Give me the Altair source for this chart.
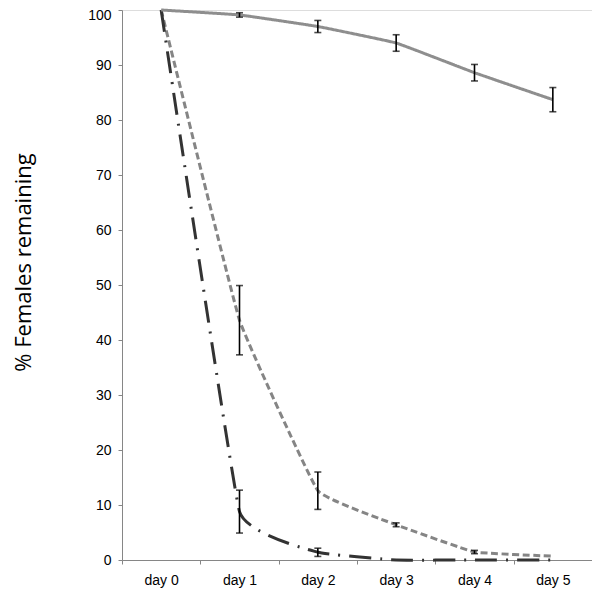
import altair as alt
import pandas as pd

days = ["day 0", "day 1", "day 2", "day 3", "day 4", "day 5"]

solid_vals = [100, 99.1, 97.0, 94.0, 88.6, 83.7]
solid_err = [None, 0.4, 1.1, 1.5, 1.5, 2.2]

dashed_vals = [100, 43.6, 12.6, 6.4, 1.45, 0.7]
dashed_err = [None, 6.3, 3.4, 0.35, 0.3, None]

dashdot_vals = [100, 8.8, 1.4, 0.0, 0.0, 0.0]
dashdot_err = [None, 3.9, 0.75, None, None, None]

series_names = ["solid", "dashed", "dashdot"]
all_vals = [solid_vals, dashed_vals, dashdot_vals]
all_errs = [solid_err, dashed_err, dashdot_err]

rows = []
for name, vals, errs in zip(series_names, all_vals, all_errs):
    for d, v, e in zip(days, vals, errs):
        rows.append({
            "day": d, "series": name, "value": v,
            "lo": (v - e) if e is not None else None,
            "hi": (v + e) if e is not None else None,
        })
df = pd.DataFrame(rows)

x_enc = alt.X("day:N", sort=days,
              scale=alt.Scale(paddingInner=0, paddingOuter=0),
              axis=alt.Axis(title=None, tickBand="extent", labelAngle=0,
                            labelFont="Liberation Sans", labelFontSize=14,
                            labelColor="#000000", labelPadding=9,
                            domainColor="#868686", tickColor="#868686",
                            tickSize=4, grid=False))

y_scale = alt.Scale(domain=[0, 100], nice=False, zero=True)
y_axis = alt.Axis(title="% Females remaining", values=list(range(0, 101, 10)),
                  labelFont="Liberation Sans", labelFontSize=14,
                  labelColor="#000000", labelPadding=7,
                  labelOffset={"condition": {"test": "datum.value == 100", "value": 5},
                               "value": 0},
                  domainColor="#868686", tickColor="#868686", tickSize=4,
                  grid=False, titleFont="Open Sans", titleFontSize=22,
                  titleFontWeight="normal", titleColor="#000000",
                  titleAngle=270, titleAlign="center", titleBaseline="middle",
                  titleX=-99, titleY=252)

base = alt.Chart(df)

def line_layer(name, color, dash, width):
    return base.transform_filter(alt.datum.series == name).mark_line(
        interpolate="cardinal", tension=0.75, color=color, strokeDash=dash,
        strokeWidth=width, strokeCap="butt"
    ).encode(x=x_enc, y=alt.Y("value:Q", scale=y_scale, axis=y_axis))

dashed = line_layer("dashed", "#858585", [7, 3.5], 3)
dashdot = line_layer("dashdot", "#333333", [22, 9, 2, 9], 3)
solid = line_layer("solid", "#8e8e8e", [1, 0], 3)

err = base.transform_filter("isValid(datum.lo)")
err_rule = err.mark_rule(color="#000000", strokeWidth=1.6).encode(
    x=x_enc, y=alt.Y("lo:Q", scale=y_scale), y2="hi:Q")
err_top = err.mark_tick(color="#000000", thickness=1.6, size=7,
                        orient="horizontal").encode(
    x=x_enc, y=alt.Y("hi:Q", scale=y_scale))
err_bot = err.mark_tick(color="#000000", thickness=1.6, size=7,
                        orient="horizontal").encode(
    x=x_enc, y=alt.Y("lo:Q", scale=y_scale))

chart = alt.layer(dashed, dashdot, solid, err_rule, err_top, err_bot).properties(
    width=470, height=550,
    autosize=alt.AutoSizeParams(type="none"),
    padding={"left": 114, "top": 2, "right": 0, "bottom": 30},
).configure_view(stroke=None).configure(background="#ffffff")

chart.save("out.html", embed_options={"renderer": "svg", "actions": False})
